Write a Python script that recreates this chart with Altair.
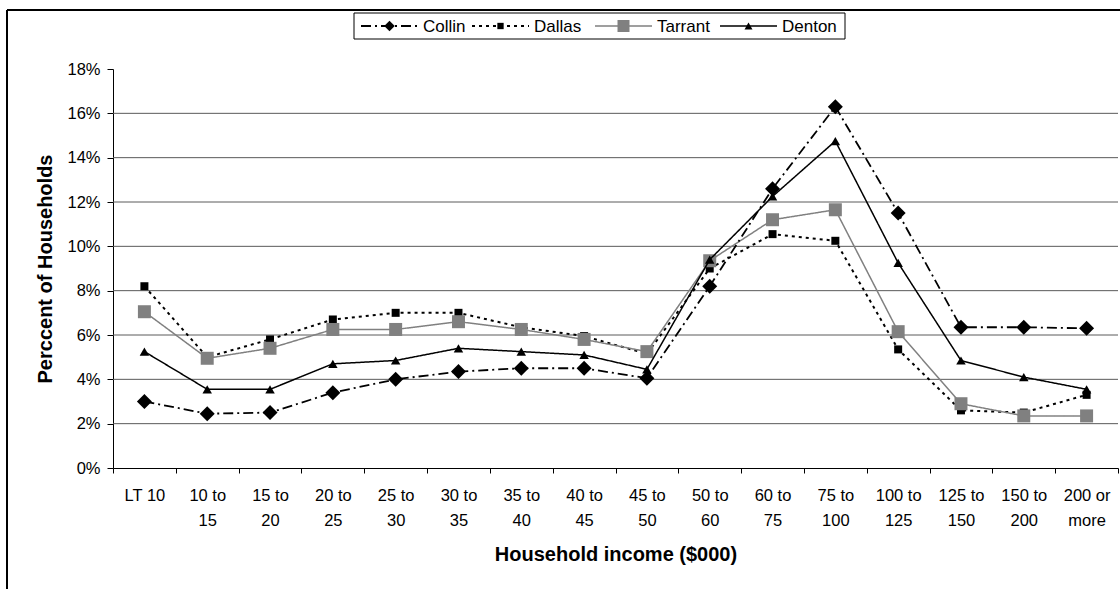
import altair as alt
import pandas as pd

# Household income brackets ($000); "\n" marks where the tick label wraps
categories = ["LT 10", "10 to\n15", "15 to\n20", "20 to\n25", "25 to\n30", "30 to\n35",
              "35 to\n40", "40 to\n45", "45 to\n50", "50 to\n60", "60 to\n75",
              "75 to\n100", "100 to\n125", "125 to\n150", "150 to\n200", "200 or\nmore"]

# Percent of households per bracket
collin = [3.0, 2.45, 2.5, 3.4, 4.0, 4.35, 4.5, 4.5, 4.05, 8.2, 12.6, 16.3, 11.5, 6.35, 6.35, 6.3]
dallas = [8.2, 5.0, 5.8, 6.7, 7.0, 7.0, 6.35, 5.95, 5.15, 9.0, 10.55, 10.25, 5.35, 2.6, 2.5, 3.3]
tarrant = [7.05, 4.95, 5.4, 6.25, 6.25, 6.6, 6.25, 5.8, 5.25, 9.35, 11.2, 11.65, 6.15, 2.9, 2.35, 2.35]
denton = [5.25, 3.55, 3.55, 4.7, 4.85, 5.4, 5.25, 5.1, 4.45, 9.4, 12.25, 14.75, 9.25, 4.85, 4.1, 3.55]

series_names = ["Collin", "Dallas", "Tarrant", "Denton"]
series_values = {"Collin": collin, "Dallas": dallas, "Tarrant": tarrant, "Denton": denton}
y_ticks = list(range(0, 19, 2))
grid_values = [v for v in y_ticks if 0 < v < 18]

FONT = "Liberation Sans"
W, H = 1005, 399

# Per-series look: line colour, dash, width, marker shape, marker size, legend marker size
styles = {
    "Collin": dict(color="black", dash=[10, 4, 2, 4], width=1.8, shape="diamond", size=225, lsize=110),
    "Dallas": dict(color="black", dash=[3, 4], width=2.0, shape="square", size=64, lsize=40),
    "Tarrant": dict(color="#808080", dash=[1, 0], width=1.5, shape="square", size=169, lsize=144),
    "Denton": dict(color="black", dash=[1, 0], width=1.5, shape="triangle-up", size=90, lsize=64),
}
draw_order = ["Dallas", "Tarrant", "Denton", "Collin"]

x_enc = alt.X("bracket:N", sort=categories, bandPosition=0.5,
              scale=alt.Scale(type="band", domain=categories, paddingInner=0, paddingOuter=0),
              axis=alt.Axis(title="Household income ($000)", tickBand="extent", grid=False,
                            labelAngle=0, labelExpr="split(datum.label, '\\n')",
                            labelFont=FONT, labelFontSize=16.5, labelLineHeight=25,
                            labelColor="black", labelPadding=14, tickSize=5, tickColor="black",
                            domainColor="black", titleFont=FONT, titleFontSize=20,
                            titleFontWeight="bold", titleColor="black", titlePadding=16))
y_enc = alt.Y("pct:Q", scale=alt.Scale(domain=[0, 18], nice=False),
              axis=alt.Axis(title="Perccent of Households", values=y_ticks, grid=False,
                            labelExpr="datum.value + '%'", labelFont=FONT, labelFontSize=16.5,
                            labelColor="black", labelPadding=7, tickSize=6, tickColor="black",
                            domainColor="black", titleFont=FONT, titleFontSize=20,
                            titleFontWeight="bold", titleColor="black", titlePadding=11))

layers = []

# Horizontal gridlines (none at the top of the scale)
grid_df = pd.DataFrame({"pct": grid_values})
layers.append(alt.Chart(grid_df).mark_rule(color="#5a5a5a", strokeWidth=1).encode(y=y_enc))

for name in draw_order:
    st = styles[name]
    df = pd.DataFrame({"bracket": categories, "pct": series_values[name], "county": name})
    base = alt.Chart(df)
    layers.append(base.mark_line(color=st["color"], strokeDash=st["dash"],
                                 strokeWidth=st["width"]).encode(x=x_enc, y=y_enc))
    layers.append(base.mark_point(shape=st["shape"], size=st["size"], filled=True,
                                  color=st["color"], opacity=1).encode(x=x_enc, y=y_enc))

# Outer frame (top and left edges)
one = pd.DataFrame({"k": [0]})
layers.append(alt.Chart(one).mark_rule(color="black", strokeWidth=2).encode(
    x=alt.value(-106), x2=alt.value(1010), y=alt.value(-59)))
layers.append(alt.Chart(one).mark_rule(color="black", strokeWidth=2).encode(
    x=alt.value(-106), y=alt.value(-59), y2=alt.value(525)))

# Legend box above the plot
LEG_Y = -43
layers.append(alt.Chart(one).mark_rect(fill="white", stroke="black", strokeWidth=1).encode(
    x=alt.value(241), x2=alt.value(732), y=alt.value(-56), y2=alt.value(-30)))
legend_line_x = {"Collin": 248, "Dallas": 359, "Tarrant": 482, "Denton": 607}
LEG_LEN = 57
for name in series_names:
    st = styles[name]
    x0 = legend_line_x[name]
    ldf = pd.DataFrame({"county": [name]})
    lc = alt.Chart(ldf)
    layers.append(lc.mark_rule(color=st["color"], strokeDash=st["dash"],
                               strokeWidth=st["width"]).encode(
        x=alt.value(x0), x2=alt.value(x0 + LEG_LEN), y=alt.value(LEG_Y)))
    layers.append(lc.mark_point(shape=st["shape"], size=st["lsize"], filled=True,
                                color=st["color"], opacity=1).encode(
        x=alt.value(x0 + LEG_LEN / 2), y=alt.value(LEG_Y)))
    layers.append(lc.mark_text(align="left", baseline="middle", font=FONT, fontSize=17,
                               color="black").encode(
        x=alt.value(x0 + LEG_LEN + 5), y=alt.value(LEG_Y + 1), text="county:N"))

chart = alt.layer(*layers).properties(
    width=W, height=H,
    autosize=alt.AutoSizeParams(type="none"),
    padding={"left": 113, "top": 69, "right": 2, "bottom": 121},
    background="white",
).configure_view(stroke=None)

chart.save("out.html", embed_options={"renderer": "svg", "actions": False})
